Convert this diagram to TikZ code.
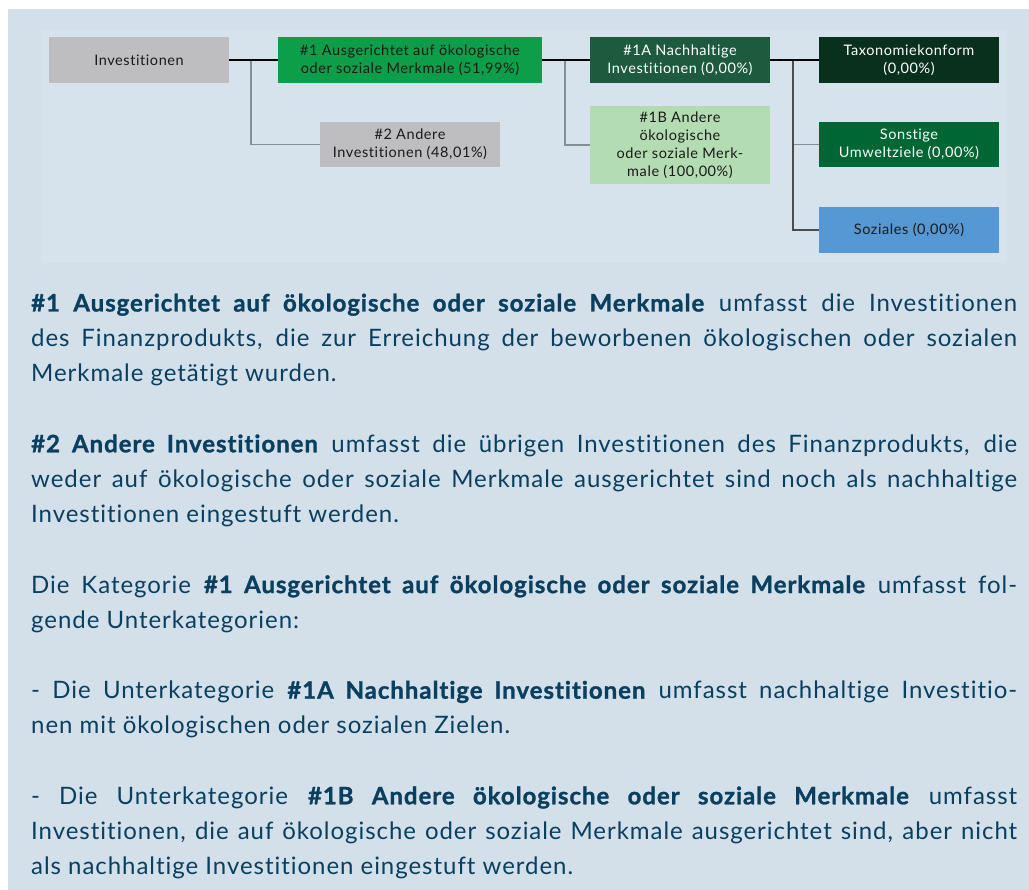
\documentclass[tikz,border=0pt]{standalone}
\usepackage{fontspec}
\setmainfont{Lato}[LetterSpace=4,Ligatures=NoCommon,BoldFeatures={FakeBold=1.2}]
\definecolor{bgout}{HTML}{D3E0EA}
\definecolor{bgin}{HTML}{D6E2EC}
\definecolor{navy}{HTML}{0A3F60}
\definecolor{boxgray}{HTML}{BEBEC0}
\definecolor{gone}{HTML}{0C9E48}
\definecolor{goneA}{HTML}{1E5B3E}
\definecolor{goneB}{HTML}{B4DCB2}
\definecolor{gtaxo}{HTML}{08301C}
\definecolor{gsonst}{HTML}{006633}
\definecolor{bsoz}{HTML}{5598D4}
\definecolor{lnkgray}{HTML}{868E94}
\definecolor{boxtext}{HTML}{1A1A1A}
\newcommand{\jl}[1]{\makebox[986pt][s]{#1}}
\tikzset{
  catbox/.style={rectangle, inner sep=0pt, minimum width=180pt, minimum height=46pt, align=center,
    font=\fontsize{14.5}{18}\selectfont, text=boxtext},
  mainlink/.style={draw=black, line width=1.1pt},
  sublink/.style={draw=lnkgray, line width=1.3pt},
  txt/.style={anchor=base west, inner sep=0pt, text=navy, font=\fontsize{24}{28}\selectfont}
}
\begin{document}
\begin{tikzpicture}[x=1pt,y=-1pt]
\useasboundingbox (0,0) rectangle (1029,890);
\fill[white] (0,0) rectangle (1029,890);
\fill[bgout] (8,9) rectangle (1029,890);
\fill[bgin] (42,30) rectangle (1007,263);

% boxes
\node[catbox, fill=boxgray] (inv) at (139,60) {Investitionen};
\node[catbox, fill=gone, minimum width=264pt] (g1) at (410,60) {\#1 Ausgerichtet auf ökologische\\oder soziale Merkmale (51,99\%)};
\node[catbox, fill=boxgray, minimum height=45pt] (a2) at (410,144.5) {\#2 Andere\\Investitionen (48,01\%)};
\node[catbox, fill=goneA, text=white] (g1a) at (680,60) {\#1A Nachhaltige\\Investitionen (0,00\%)};
\node[catbox, fill=goneB, minimum height=78pt] (g1b) at (680,145) {\#1B Andere\\ökologische\\oder soziale Merk-\\male (100,00\%)};
\node[catbox, fill=gtaxo, text=white] (tax) at (909,60) {Taxonomiekonform\\(0,00\%)};
\node[catbox, fill=gsonst, text=white, minimum height=45pt] (son) at (909,144.5) {Sonstige\\Umweltziele (0,00\%)};
\node[catbox, fill=bsoz] (soz) at (909,230) {Soziales (0,00\%)};

% connectors
\coordinate (j1) at (251,60);
\coordinate (j2) at (565,60);
\coordinate (j3) at (793,60);
\draw[sublink] (j1) |- (a2.west);
\draw[sublink] (j2) |- (g1b.west);
\draw[sublink] (j3) |- (son.west);
\draw[sublink, draw=gray!60!black] (j3) |- (soz.west);
\draw[mainlink] (inv.east) -- (g1.west);
\draw[mainlink] (g1.east) -- (g1a.west);
\draw[mainlink] (g1a.east) -- (tax.west);

% text
\node[txt] (p1a) at (31,311.5) {\jl{\textbf{\#1 Ausgerichtet auf ökologische oder soziale Merkmale} umfasst die Investitionen}};
\node[txt] (p1b) at (31,346.7) {\jl{des Finanzprodukts, die zur Erreichung der beworbenen ökologischen oder sozialen}};
\node[txt] (p1c) at (31,381.9) {Merkmale getätigt wurden.};

\node[txt] (p2a) at (31,452.3) {\jl{\textbf{\#2 Andere Investitionen} umfasst die übrigen Investitionen des Finanzprodukts, die}};
\node[txt] (p2b) at (31,487.5) {\jl{weder auf ökologische oder soziale Merkmale ausgerichtet sind noch als nachhaltige}};
\node[txt] (p2c) at (31,522.7) {Investitionen eingestuft werden.};

\node[txt] (p3a) at (31,593.1) {\jl{Die Kategorie \textbf{\#1 Ausgerichtet auf ökologische oder soziale Merkmale} umfasst fol-}};
\node[txt] (p3b) at (31,628.3) {gende Unterkategorien:};

\node[txt] (p4a) at (31,698.7) {\jl{- Die Unterkategorie \textbf{\#1A Nachhaltige Investitionen} umfasst nachhaltige Investitio-}};
\node[txt] (p4b) at (31,733.9) {nen mit ökologischen oder sozialen Zielen.};

\node[txt] (p5a) at (31,804.3) {\jl{- Die Unterkategorie \textbf{\#1B Andere ökologische oder soziale Merkmale} umfasst}};
\node[txt] (p5b) at (31,839.5) {\jl{Investitionen, die auf ökologische oder soziale Merkmale ausgerichtet sind, aber nicht}};
\node[txt] (p5c) at (31,874.7) {als nachhaltige Investitionen eingestuft werden.};
\end{tikzpicture}
\end{document}
